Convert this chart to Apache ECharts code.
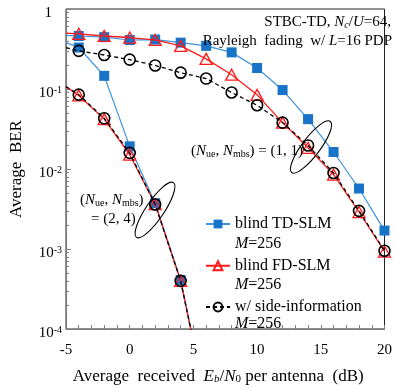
<!DOCTYPE html>
<html><head><meta charset="utf-8">
<script src="https://cdn.jsdelivr.net/npm/echarts@6/dist/echarts.min.js"></script>
<style>html,body{margin:0;padding:0;background:#fff}#c{width:395px;height:390px}</style>
</head><body><div id="c"></div>
<script>
// Eb/N0 (dB) sample points; first (and last for (2,4)) entries are line-only ends
const snr11 = [-5, -4, -2, 0, 2, 4, 6, 8, 10, 12, 14, 16, 18, 20];
const tdSlm11 = [0.467, 0.46, 0.445, 0.41, 0.415, 0.38, 0.346, 0.287, 0.183, 0.097, 0.042, 0.0163, 0.0057, 0.0017];
const fdSlm11 = [0.50, 0.49, 0.46, 0.44, 0.41, 0.346, 0.238, 0.151, 0.0845, 0.038, 0.0184, 0.0085, 0.0029, 0.00093];
const side11  = [0.33, 0.30, 0.266, 0.233, 0.197, 0.16, 0.135, 0.0904, 0.0626, 0.038, 0.0197, 0.0089, 0.0030, 0.00095];

const snr24 = [-5, -4, -2, 0, 2, 4, 6];
const tdSlm24 = [0.38, 0.33, 0.146, 0.0192, 0.00374, 0.00041, 0.000012];
const fdSlm24 = [0.107, 0.083, 0.042, 0.0151, 0.00363, 0.00040, 0.000012];
const side24  = [0.107, 0.085, 0.043, 0.0159, 0.0036, 0.00040, 0.000012];

const legendNames = ['blind TD-SLM', 'blind FD-SLM', 'w/ side-information'];
const legendSub = 'M=256';
const xTickLabels = ['-5', '0', '5', '10', '15', '20'];
const yMinorTicks = [];
[1e-4, 1e-3, 1e-2, 1e-1].forEach(d => { for (let k = 2; k <= 9; k++) yMinorTicks.push(d * k); });

const FONT = '"Liberation Serif", serif';
const BLUE = '#1874c8', BLUE_LINE = '#3c92dc', RED = '#ff1a1a', BLACK = '#000';

function pts(xs, ys, hideFirst, hideLast) {
  return xs.map((x, i) => {
    const o = { value: [x, ys[i]] };
    if ((hideFirst && i === 0) || (hideLast && i === xs.length - 1)) o.symbol = 'none';
    return o;
  });
}
function series(name, data, kind) {
  const s = { name, type: 'line', data, clip: true, symbolSize: 10, z: 3 };
  if (kind === 'td') {
    s.symbol = 'rect'; s.symbolSize = 10;
    s.itemStyle = { color: BLUE, borderColor: BLUE, borderWidth: 0 };
    s.lineStyle = { color: BLUE_LINE, width: 1.2 };
  } else if (kind === 'fd') {
    s.symbol = 'triangle'; s.symbolSize = [12, 11];
    s.itemStyle = { color: 'rgba(255,255,255,0)', borderColor: RED, borderWidth: 1.3 };
    s.lineStyle = { color: RED, width: 1.3 };
    s.z = 4;
  } else {
    s.symbol = 'circle'; s.symbolSize = 11;
    s.itemStyle = { color: 'rgba(255,255,255,0)', borderColor: BLACK, borderWidth: 1.6 };
    s.lineStyle = { color: BLACK, width: 1.3, type: [4, 3] };
    s.z = 5;
  }
  return s;
}

const richCommon = {
  n: { fontFamily: FONT, fontSize: 15, color: '#000' },
  i: { fontFamily: FONT, fontSize: 15, fontStyle: 'italic', color: '#000' },
  sub: { fontFamily: FONT, fontSize: 10, color: '#000', verticalAlign: 'bottom', padding: [6, 0, 0, 0] },
  isub: { fontFamily: FONT, fontSize: 10, fontStyle: 'italic', color: '#000', verticalAlign: 'bottom', padding: [6, 0, 0, 0] }
};
const richName = {
  n: { fontFamily: FONT, fontSize: 17, color: '#000' },
  i: { fontFamily: FONT, fontSize: 17, fontStyle: 'italic', color: '#000' },
  sub: { fontFamily: FONT, fontSize: 11, color: '#000', verticalAlign: 'bottom', padding: [6, 0, 0, 0] },
  isub: { fontFamily: FONT, fontSize: 11, fontStyle: 'italic', color: '#000', verticalAlign: 'bottom', padding: [6, 0, 0, 0] }
};

function legendAt(idx, top, lh) {
  return {
    data: [legendNames[idx]], left: 205, top, orient: 'vertical', padding: 0,
    itemWidth: 24, itemHeight: 11, itemGap: 0, selectedMode: false,
    textStyle: {
      fontFamily: FONT, fontSize: 16, color: '#000', lineHeight: lh,
      rich: {
        s: { fontSize: 16, lineHeight: lh },
        a: { fontFamily: FONT, fontSize: 16, lineHeight: lh, color: '#000' },
        m: { fontFamily: FONT, fontSize: 16, lineHeight: lh, fontStyle: 'italic', color: '#000' },
        b: { fontFamily: FONT, fontSize: 16, lineHeight: lh, color: '#000' }
      }
    },
    formatter: name => '{s| }\n{a|' + name + '}\n{m|M}{b|' + legendSub.slice(1) + '}'
  };
}

const option = {
  animation: false,
  backgroundColor: '#fff',
  textStyle: { fontFamily: FONT },
  grid: { left: 61, right: 1, top: 9, bottom: 54, show: true, borderColor: '#222', borderWidth: 1, backgroundColor: 'transparent' },
  legend: [legendAt(0, 194, 20), legendAt(1, 236.5, 19.5), legendAt(2, 281.5, 17)],
  xAxis: {
    type: 'value', min: -5, max: 20, interval: 5,
    axisLine: { show: true, onZero: false, lineStyle: { color: '#7f7f7f', width: 1.2 } },
    axisTick: { show: true, inside: true, length: 4, lineStyle: { color: '#7f7f7f' } },
    minorTick: { show: true, splitNumber: 5, length: 4, lineStyle: { color: '#7f7f7f' } },
    splitLine: { show: false },
    axisLabel: { fontFamily: FONT, fontSize: 15, color: '#000', margin: 14,
      formatter: v => '{n|' + xTickLabels[Math.round((v + 5) / 5)] + '}',
      rich: { n: { fontFamily: FONT, fontSize: 15, color: '#000' } } },
    name: '{n|Average  received  }{i|E}{isub|b}{n|/}{i|N}{sub|0}{n| per antenna  (dB)}',
    nameLocation: 'middle', nameGap: 39,
    nameTextStyle: { rich: richName, padding: [0, 14, 0, 0] }
  },
  yAxis: [{
    type: 'log', logBase: 10, min: 1e-4, max: 1,
    axisLine: { show: true, onZero: false, lineStyle: { color: '#7f7f7f', width: 1.2 } },
    axisTick: { show: true, inside: true, length: 5, lineStyle: { color: '#7f7f7f' } },
    splitLine: { show: false },
    axisLabel: {
      margin: 4,
      padding: [9, 0, 0, 0],
      formatter: v => {
        const e = Math.round(Math.log10(v));
        return e === 0 ? '{n|1}{pad|}' : '{n|10}{sup|' + e + '}';
      },
      rich: {
        n: { fontFamily: FONT, fontSize: 15, color: '#000' },
        sup: { fontFamily: FONT, fontSize: 10, color: '#000', verticalAlign: 'top', padding: [0, 0, 7, 0] },
        pad: { width: 10 }
      }
    },
    name: 'Average  BER', nameLocation: 'middle', nameGap: 41,
    nameTextStyle: { fontFamily: FONT, fontSize: 17, color: '#000' }
  }, {
    type: 'log', logBase: 10, min: 1e-4, max: 1, position: 'left',
    axisLine: { show: false, onZero: false },
    axisTick: { show: true, inside: true, length: 3, customValues: yMinorTicks, lineStyle: { color: '#7f7f7f' } },
    axisLabel: { show: false }, splitLine: { show: false }
  }],
  series: [
    series('blind TD-SLM', pts(snr11, tdSlm11, true, false), 'td'),
    series('blind TD-SLM', pts(snr24, tdSlm24, true, true), 'td'),
    series('blind FD-SLM', pts(snr11, fdSlm11, true, false), 'fd'),
    series('blind FD-SLM', pts(snr24, fdSlm24, true, true), 'fd'),
    series('w/ side-information', pts(snr11, side11, true, false), 'side'),
    series('w/ side-information', pts(snr24, side24, true, true), 'side')
  ],
  graphic: [
    { type: 'text', right: 4, top: 15, z: 10,
      style: { text: '{n|STBC-TD, }{i|N}{isub|c}{n|/}{i|U}{n|=64,}', rich: richCommon, textAlign: 'right' } },
    { type: 'text', right: 3, top: 34, z: 10,
      style: { text: '{n|Rayleigh  fading  w/ }{i|L}{n|=16 PDP}', rich: richCommon, textAlign: 'right' } },
    { type: 'text', left: 191, top: 144, z: 10,
      style: { text: '{n|(}{i|N}{sub|ue}{n|, }{i|N}{sub|mbs}{n|) = (1, 1)}', rich: richCommon } },
    { type: 'text', left: 80, top: 193, z: 10,
      style: { text: '{n|(}{i|N}{sub|ue}{n|, }{i|N}{sub|mbs}{n|)}', rich: richCommon } },
    { type: 'text', left: 91, top: 212, z: 10,
      style: { text: '{n|= (2, 4)}', rich: richCommon } },
    { type: 'ellipse', x: 155, y: 210, rotation: 56 * Math.PI / 180, z: 10,
      shape: { cx: 0, cy: 0, rx: 33, ry: 9 },
      style: { fill: 'none', stroke: '#000', lineWidth: 1.1 } },
    { type: 'ellipse', x: 311, y: 147, rotation: 53 * Math.PI / 180, z: 10,
      shape: { cx: 0, cy: 0, rx: 32, ry: 9 },
      style: { fill: 'none', stroke: '#000', lineWidth: 1.1 } }
  ]
};
const chart = echarts.init(document.getElementById('c'), null, { renderer: 'canvas' });
chart.setOption(option);
</script></body></html>
